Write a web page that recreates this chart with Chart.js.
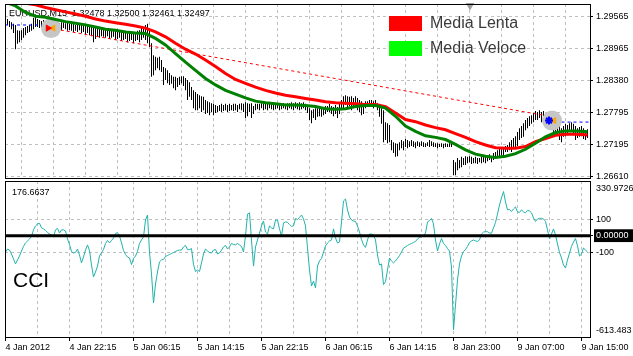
<!DOCTYPE html>
<html><head><meta charset="utf-8">
<script src="https://cdn.jsdelivr.net/npm/chart.js@4.4.1/dist/chart.umd.min.js"></script>
<style>
html,body{margin:0;padding:0;background:#fff;width:633px;height:356px;overflow:hidden}
canvas{position:absolute;left:0}
#main{top:0}
#cci{top:180px}
</style></head><body>
<canvas id="main" width="633" height="180"></canvas>
<canvas id="cci" width="633" height="176"></canvas>
<script>
// ---------- DATA ----------
const barHigh = [
1.2950,1.2952,1.2948,1.2946,1.2943,1.2941,1.2931,1.2930,1.2931,1.2935,
1.2937,1.2939,1.2941,1.2943,1.2954,1.2956,1.2952,1.2950,1.2948,1.2950,
1.2948,1.2946,1.2950,1.2948,1.2946,1.2948,1.2946,1.2944,1.2946,1.2946,
1.2944,1.2946,1.2943,1.2944,1.2943,1.2941,1.2944,1.2943,1.2941,1.2943,
1.2941,1.2939,1.2941,1.2937,1.2941,1.2935,1.2937,1.2935,1.2937,1.2935,
1.2933,1.2935,1.2933,1.2931,1.2933,1.2931,1.2930,1.2931,1.2930,1.2928,
1.2930,1.2928,1.2926,1.2928,1.2926,1.2928,1.2930,1.2931,1.2935,1.2937,
1.2941,1.2943,1.2931,1.2907,1.2885,1.2882,1.2880,1.2882,1.2876,1.2863,
1.2861,1.2857,1.2852,1.2848,1.2845,1.2845,1.2843,1.2845,1.2846,1.2846,
1.2843,1.2839,1.2835,1.2826,1.2820,1.2817,1.2813,1.2811,1.2809,1.2808,
1.2802,1.2800,1.2798,1.2796,1.2795,1.2793,1.2791,1.2793,1.2795,1.2793,
1.2795,1.2793,1.2795,1.2793,1.2795,1.2795,1.2793,1.2795,1.2796,1.2795,
1.2798,1.2796,1.2795,1.2796,1.2791,1.2795,1.2795,1.2795,1.2796,1.2795,
1.2796,1.2795,1.2796,1.2795,1.2796,1.2795,1.2796,1.2795,1.2796,1.2796,
1.2795,1.2796,1.2796,1.2798,1.2796,1.2798,1.2796,1.2798,1.2796,1.2798,
1.2795,1.2791,1.2787,1.2783,1.2785,1.2787,1.2787,1.2789,1.2787,1.2789,
1.2791,1.2791,1.2795,1.2791,1.2789,1.2793,1.2789,1.2795,1.2802,1.2809,
1.2811,1.2809,1.2808,1.2809,1.2806,1.2809,1.2806,1.2802,1.2800,1.2795,
1.2800,1.2800,1.2802,1.2802,1.2800,1.2802,1.2796,1.2793,1.2787,1.2783,
1.2761,1.2759,1.2756,1.2728,1.2724,1.2722,1.2721,1.2724,1.2728,1.2726,
1.2730,1.2728,1.2726,1.2728,1.2726,1.2724,1.2726,1.2724,1.2726,1.2724,
1.2722,1.2724,1.2728,1.2726,1.2724,1.2722,1.2722,1.2721,1.2722,1.2721,
1.2722,1.2721,1.2722,1.2722,1.2691,1.2687,1.2695,1.2691,1.2697,1.2695,
1.2698,1.2697,1.2698,1.2697,1.2695,1.2697,1.2695,1.2695,1.2697,1.2698,
1.2697,1.2700,1.2702,1.2698,1.2704,1.2706,1.2709,1.2713,1.2711,1.2713,
1.2717,1.2719,1.2724,1.2728,1.2732,1.2735,1.2743,1.2750,1.2754,1.2759,
1.2765,1.2769,1.2772,1.2774,1.2778,1.2782,1.2780,1.2783,1.2780,1.2782,
1.2776,1.2774,1.2771,1.2769,1.2765,1.2761,1.2758,1.2756,1.2750,1.2754,
1.2758,1.2756,1.2759,1.2761,1.2758,1.2754,1.2750,1.2752,1.2754,1.2750,
1.2746,1.2748];
const barLow = [
1.2939,1.2941,1.2937,1.2933,1.2926,1.2896,1.2906,1.2909,1.2913,1.2917,
1.2922,1.2926,1.2928,1.2930,1.2933,1.2937,1.2937,1.2935,1.2937,1.2939,
1.2935,1.2937,1.2939,1.2937,1.2935,1.2933,1.2935,1.2933,1.2931,1.2935,
1.2933,1.2930,1.2931,1.2930,1.2928,1.2930,1.2928,1.2931,1.2926,1.2928,
1.2924,1.2926,1.2922,1.2920,1.2909,1.2915,1.2919,1.2917,1.2920,1.2919,
1.2917,1.2920,1.2915,1.2917,1.2919,1.2913,1.2915,1.2917,1.2911,1.2913,
1.2915,1.2909,1.2911,1.2913,1.2907,1.2911,1.2913,1.2909,1.2913,1.2917,
1.2913,1.2907,1.2900,1.2845,1.2848,1.2857,1.2861,1.2857,1.2854,1.2830,
1.2839,1.2833,1.2830,1.2832,1.2824,1.2820,1.2826,1.2830,1.2833,1.2828,
1.2820,1.2802,1.2808,1.2802,1.2787,1.2783,1.2783,1.2787,1.2780,1.2783,
1.2776,1.2778,1.2774,1.2780,1.2774,1.2778,1.2780,1.2782,1.2780,1.2782,
1.2783,1.2780,1.2782,1.2783,1.2782,1.2783,1.2780,1.2785,1.2783,1.2780,
1.2769,1.2772,1.2780,1.2769,1.2776,1.2783,1.2785,1.2783,1.2787,1.2783,
1.2785,1.2783,1.2787,1.2785,1.2783,1.2785,1.2787,1.2783,1.2785,1.2787,
1.2785,1.2783,1.2787,1.2785,1.2783,1.2787,1.2785,1.2783,1.2785,1.2787,
1.2783,1.2778,1.2765,1.2759,1.2769,1.2765,1.2771,1.2772,1.2771,1.2774,
1.2776,1.2780,1.2780,1.2776,1.2772,1.2776,1.2769,1.2776,1.2783,1.2787,
1.2793,1.2787,1.2791,1.2783,1.2787,1.2795,1.2783,1.2780,1.2774,1.2776,
1.2787,1.2791,1.2789,1.2791,1.2787,1.2793,1.2783,1.2771,1.2758,1.2724,
1.2728,1.2722,1.2724,1.2709,1.2704,1.2697,1.2698,1.2709,1.2713,1.2709,
1.2715,1.2713,1.2715,1.2717,1.2715,1.2713,1.2717,1.2715,1.2717,1.2715,
1.2715,1.2717,1.2715,1.2717,1.2715,1.2715,1.2713,1.2715,1.2715,1.2713,
1.2715,1.2715,1.2715,1.2715,1.2663,1.2663,1.2672,1.2676,1.2678,1.2682,
1.2682,1.2685,1.2687,1.2684,1.2685,1.2685,1.2684,1.2687,1.2685,1.2687,
1.2685,1.2689,1.2691,1.2687,1.2691,1.2695,1.2697,1.2698,1.2700,1.2697,
1.2706,1.2706,1.2709,1.2706,1.2713,1.2713,1.2717,1.2728,1.2732,1.2734,
1.2746,1.2750,1.2754,1.2758,1.2761,1.2765,1.2765,1.2769,1.2761,1.2769,
1.2765,1.2761,1.2754,1.2750,1.2743,1.2741,1.2737,1.2728,1.2724,1.2734,
1.2735,1.2737,1.2743,1.2746,1.2739,1.2728,1.2732,1.2734,1.2735,1.2730,
1.2728,1.2732];
const maBars = [0,5,10,15,20,25,30,35,40,45,50,55,60,65,70,75,80,85,90,95,100,105,110,115,120,125,130,135,140,145,150,155,160,165,170,175,180,185,190,195,200,205,210,215,220,225,230,235,240,245,250,255,260,265,270,275,280,285,290,291];
const slowMA = [1.2987,1.2984,1.2981,1.2978,1.2973,1.2969,1.2965,1.2961,1.2957,1.2952,1.2948,1.2945,1.2942,1.2939,1.2935,1.2928,1.2919,1.2907,1.2896,1.2887,1.2876,1.2864,1.2851,1.2840,1.2833,1.2826,1.2820,1.2815,1.2811,1.2808,1.2805,1.2802,1.2799,1.2797,1.2796,1.2795,1.2794,1.2794,1.2790,1.2778,1.2766,1.2762,1.2756,1.2751,1.2747,1.2740,1.2733,1.2725,1.2719,1.2714,1.2713,1.2713,1.2716,1.2725,1.2731,1.2737,1.2739,1.2739,1.2738,1.2737];
const fastMA = [1.2983,1.2976,1.2964,1.2957,1.2955,1.2951,1.2947,1.2944,1.2941,1.2937,1.2933,1.2931,1.2928,1.2926,1.2925,1.2916,1.2904,1.2888,1.2872,1.2857,1.2842,1.2830,1.2820,1.2813,1.2806,1.2800,1.2797,1.2795,1.2793,1.2793,1.2792,1.2790,1.2786,1.2785,1.2786,1.2790,1.2792,1.2792,1.2787,1.2772,1.2754,1.2744,1.2736,1.2733,1.2729,1.2720,1.2710,1.2702,1.2698,1.2696,1.2698,1.2703,1.2711,1.2722,1.2734,1.2742,1.2745,1.2745,1.2744,1.2743];
const cciValues = [
-99,-81,-87,-111,-141,-171,-147,-123,-93,-65,
-44,-32,-20,-5,35,59,71,75,47,41,
32,19,10,4,-8,35,44,16,35,35,
28,-20,-53,-96,-105,-102,-81,-117,-165,-129,
-87,-56,-90,-178,-250,-220,-184,-123,-102,-84,
-47,-29,-44,-29,-14,13,19,-2,-44,-90,
-114,-129,-135,-175,-138,-123,-96,-47,-26,-8,
95,125,-99,-232,-408,-293,-220,-159,-147,-144,
-126,-120,-114,-108,-102,-96,-90,-87,-87,-68,
-59,-84,-84,-78,-175,-217,-208,-217,-165,-111,
-81,-93,-102,-105,-87,-84,-111,-105,-87,-68,
-59,-81,-68,-47,-53,-56,-47,-56,-65,-99,
-2,131,138,-26,-184,-68,-26,16,59,89,
22,10,59,47,41,95,95,41,-2,77,
83,80,68,56,59,104,98,110,125,101,
59,-75,-208,-305,-275,-317,-184,-153,-138,-99,
-62,-44,-32,-26,41,-14,-44,-38,83,210,
222,156,113,95,89,86,59,22,-23,-56,
-71,-26,10,10,4,-26,-117,-178,-171,-296,
-278,-208,-135,-153,-165,-153,-138,-120,-99,-75,
-68,-59,-53,-47,-41,-35,-20,-11,-6,-2,
16,83,92,104,71,-26,-93,-50,-17,-47,
-59,-78,-93,-190,-571,-420,-268,-171,-123,-96,
-84,-65,-41,-32,-26,-32,-35,-26,10,22,
24,24,16,15,47,80,131,186,228,267,
204,156,159,147,162,174,144,141,156,144,
138,153,150,138,107,86,101,105,105,101,
86,35,-20,10,41,4,-50,-102,-135,-178,
-196,-147,-105,-65,-38,-17,-62,-123,-111,-75,
-87,-99];
const tradeBars = [21.75, 271.25];
const tradePrices = [1.29352, 1.27725];
const openLineBars = [-0.25, 20];
const openLinePrice = 1.29408;
const closeLineBars = [272, 292.25];
const closeLinePrice = 1.27613;
const markBars = [22.75, 273.25];
const markPrices = [1.2935, 1.27641];
const priceTicks = [1.29565, 1.28965, 1.28380, 1.27795, 1.27195, 1.26610];
const priceMin = 1.26579, priceMax = 1.29796;
const cciMin = -613.483, cciMax = 330.9726;
const cciTickLabels = ['330.9726', '100', '0.00000', '-100', '-613.483'];
const gridBars = [0,16,32,48,64,80,96,112,128,144,160,176,192,208,224,240,256,272,288];
const labelBars = [0,32,64,96,128,160,192,224,256,288];
const xTickLabels = ['4 Jan 2012','4 Jan 22:15','5 Jan 06:15','5 Jan 14:15','5 Jan 22:15','6 Jan 06:15','6 Jan 14:15','8 Jan 23:00','9 Jan 07:00','9 Jan 15:00'];
const headerText = 'EURUSD,M15  1.32478 1.32500 1.32461 1.32497';
const cciValueText = '176.6637';
const legendItems = [{label:'Media Lenta', color:'#ff0000'}, {label:'Media Veloce', color:'#00ff00'}];

// ---------- CHARTS ----------
Chart.defaults.font.family = "'Liberation Sans', Arial, sans-serif";
Chart.defaults.font.size = 9;
Chart.defaults.color = '#000';
const TR = 'rgba(0,0,0,0)';
const GRID = '#c0c0c0';
const barIdx = barHigh.map((_, i) => i);

const framePlugin = { id: 'frame', afterDraw(chart) {
  const a = chart.chartArea, c = chart.ctx;
  c.save(); c.strokeStyle = '#000'; c.lineWidth = 1;
  c.strokeRect(a.left + 0.5, a.top + 0.5, a.right - a.left, a.bottom - a.top);
  c.restore();
}};

const mainTexts = { id: 'mainTexts',
  beforeDatasetsDraw(chart) {
    const c = chart.ctx; c.save();
    c.font = "9px 'Liberation Sans', Arial, sans-serif"; c.fillStyle = '#000'; c.textBaseline = 'middle';
    c.fillText(headerText, 9, 14);
    c.restore();
  },
  afterDatasetsDraw(chart) {
    const c = chart.ctx; c.save();
    legendItems.forEach((it, k) => {
      const y = 16 + k * 25;
      c.fillStyle = it.color; c.fillRect(389, y, 33, 15);
      c.fillStyle = '#3a3a3a'; c.font = "16px 'Liberation Sans', Arial, sans-serif"; c.textBaseline = 'middle';
      c.fillText(it.label, 430, y + 7.5);
    });
    c.restore();
  }
};

new Chart(document.getElementById('main'), {
  type: 'line',
  data: { datasets: [
    { type: 'bar', data: barIdx.map(i => ({x: i, y: [barLow[i], barHigh[i]]})), backgroundColor: '#000', borderWidth: 0, barThickness: 1, inflateAmount: 0, order: 10 },
    { data: tradeBars.map((b, k) => ({x: b, y: tradePrices[k]})), borderColor: '#ff0000', borderWidth: 1, borderDash: [3, 3], pointRadius: 0, order: 9 },
    { data: openLineBars.map(b => ({x: b, y: openLinePrice})), borderColor: '#0000ff', borderWidth: 1, borderDash: [3, 3], pointRadius: 0, order: 9 },
    { data: closeLineBars.map(b => ({x: b, y: closeLinePrice})), borderColor: '#0000ff', borderWidth: 1, borderDash: [3, 3], pointRadius: 0, order: 9 },
    { data: markBars.map((b, k) => ({x: b, y: markPrices[k]})), showLine: false, pointRadius: 10, pointBackgroundColor: '#c6c6c6', pointBorderWidth: 0, order: 8 },
    { data: [{x: markBars[0] - 1.5, y: markPrices[0]}], showLine: false, pointStyle: 'triangle', rotation: 90, pointRadius: 3.5, pointBackgroundColor: '#ff0000', pointBorderColor: '#ff0000', order: 7 },
    { data: [{x: markBars[1] - 1.5, y: markPrices[1]}], showLine: false, pointStyle: 'star', pointRadius: 4, pointBorderWidth: 2, pointBorderColor: '#0000ff', order: 7 },
    { data: markBars.map((b, k) => ({x: b + 1, y: markPrices[k]})), showLine: false, pointStyle: 'triangle', rotation: -90, pointRadius: 3.5, pointBackgroundColor: '#ffa500', pointBorderColor: '#ffa500', order: 7 },
    { data: [{x: 232.25, y: 1.2977}], showLine: false, pointStyle: 'triangle', rotation: 180, pointRadius: 5, pointBackgroundColor: '#a0a0a0', pointBorderWidth: 0, clip: false, order: 7 },
    { label: 'Media Lenta', data: maBars.map((b, k) => ({x: b, y: slowMA[k]})), borderColor: '#ff0000', borderWidth: 3, pointRadius: 0, clip: 0, order: 5 },
    { label: 'Media Veloce', data: maBars.map((b, k) => ({x: b, y: fastMA[k]})), borderColor: '#008000', borderWidth: 3, pointRadius: 0, clip: 0, order: 4 }
  ]},
  options: {
    responsive: false, animation: false, events: [],
    layout: { autoPadding: false, padding: { left: 5, top: 4, right: 0, bottom: 2 } },
    plugins: { legend: { display: false }, tooltip: { enabled: false } },
    scales: {
      x: { type: 'linear', min: -0.25, max: 292.25, offset: false,
        afterBuildTicks: s => { s.ticks = gridBars.map(v => ({value: v})); },
        afterFit: s => { s.height = 0; s.paddingLeft = 0; s.paddingRight = 0; },
        ticks: { display: false, autoSkip: false },
        grid: { drawTicks: false, color: c => (c.tick && c.tick.value === 0) ? TR : GRID },
        border: { display: false, dash: [3, 3] } },
      y: { type: 'linear', position: 'right', min: priceMin, max: priceMax,
        afterBuildTicks: s => { s.ticks = priceTicks.map(v => ({value: v})); },
        afterFit: s => { s.width = 43; s.paddingTop = 0; s.paddingBottom = 0; },
        ticks: { autoSkip: false, padding: 3, callback: v => v.toFixed(5) },
        grid: { color: GRID, tickColor: '#000', tickLength: 3, tickBorderDash: [] },
        border: { display: false, dash: [3, 3] } }
    }
  },
  plugins: [mainTexts, framePlugin]
});

const cciTexts = { id: 'cciTexts', afterDatasetsDraw(chart) {
  const c = chart.ctx; c.save(); c.fillStyle = '#000'; c.textBaseline = 'middle';
  c.font = "9px 'Liberation Sans', Arial, sans-serif"; c.fillText(cciValueText, 12, 12.5);
  c.font = "21px 'Liberation Sans', Arial, sans-serif"; c.fillText('CCI', 13, 101);
  c.restore();
}};

const cciTickVals = [cciMax - 45, 100, 0, -100, cciMin + 42];
new Chart(document.getElementById('cci'), {
  type: 'line',
  data: { datasets: [
    { label: 'CCI', data: cciValues.map((v, i) => ({x: i, y: v})), borderColor: '#20b2aa', borderWidth: 1, pointRadius: 0, order: 2 },
    { data: [{x: -0.25, y: 0}, {x: 292.25, y: 0}], borderColor: '#000', borderWidth: 3, pointRadius: 0, order: 1 }
  ]},
  options: {
    responsive: false, animation: false, events: [],
    layout: { autoPadding: false, padding: { left: 5, top: 1, right: 0, bottom: 0 } },
    plugins: { legend: { display: false }, tooltip: { enabled: false } },
    scales: {
      x: { type: 'linear', min: -0.25, max: 292.25, offset: false,
        afterBuildTicks: s => { s.ticks = gridBars.map(v => ({value: v})); },
        afterFit: s => { s.height = 19; s.paddingLeft = 0; s.paddingRight = 0; },
        ticks: { autoSkip: false, maxRotation: 0, minRotation: 0, align: 'start', padding: 1,
          callback: v => { const k = labelBars.indexOf(v); return k >= 0 ? xTickLabels[k] : ''; } },
        grid: { color: c => (c.tick && c.tick.value === 0) ? TR : GRID,
          tickColor: c => (c.tick && labelBars.includes(c.tick.value)) ? '#000' : TR, tickLength: 4, tickBorderDash: [] },
        border: { display: false, dash: [3, 3] } },
      y: { type: 'linear', position: 'right', min: cciMin, max: cciMax,
        afterBuildTicks: s => { s.ticks = cciTickVals.map(v => ({value: v})); },
        afterFit: s => { s.width = 43; s.paddingTop = 0; s.paddingBottom = 0; },
        ticks: { autoSkip: false, padding: 3, callback: (v, i) => cciTickLabels[i],
          color: c => (c.tick && c.tick.value === 0) ? '#fff' : '#000',
          showLabelBackdrop: c => !!(c.tick && c.tick.value === 0), backdropColor: '#000',
          backdropPadding: { top: 1, bottom: 1, left: 2, right: 8 } },
        grid: { color: c => (c.tick && Math.abs(c.tick.value) === 100) ? GRID : TR,
          tickColor: c => (c.tick && (Math.abs(c.tick.value) === 100 || c.tick.value === 0)) ? '#000' : TR,
          tickLength: 3, tickBorderDash: [] },
        border: { display: false, dash: [3, 3] } }
    }
  },
  plugins: [cciTexts, framePlugin]
});
</script></body></html>
